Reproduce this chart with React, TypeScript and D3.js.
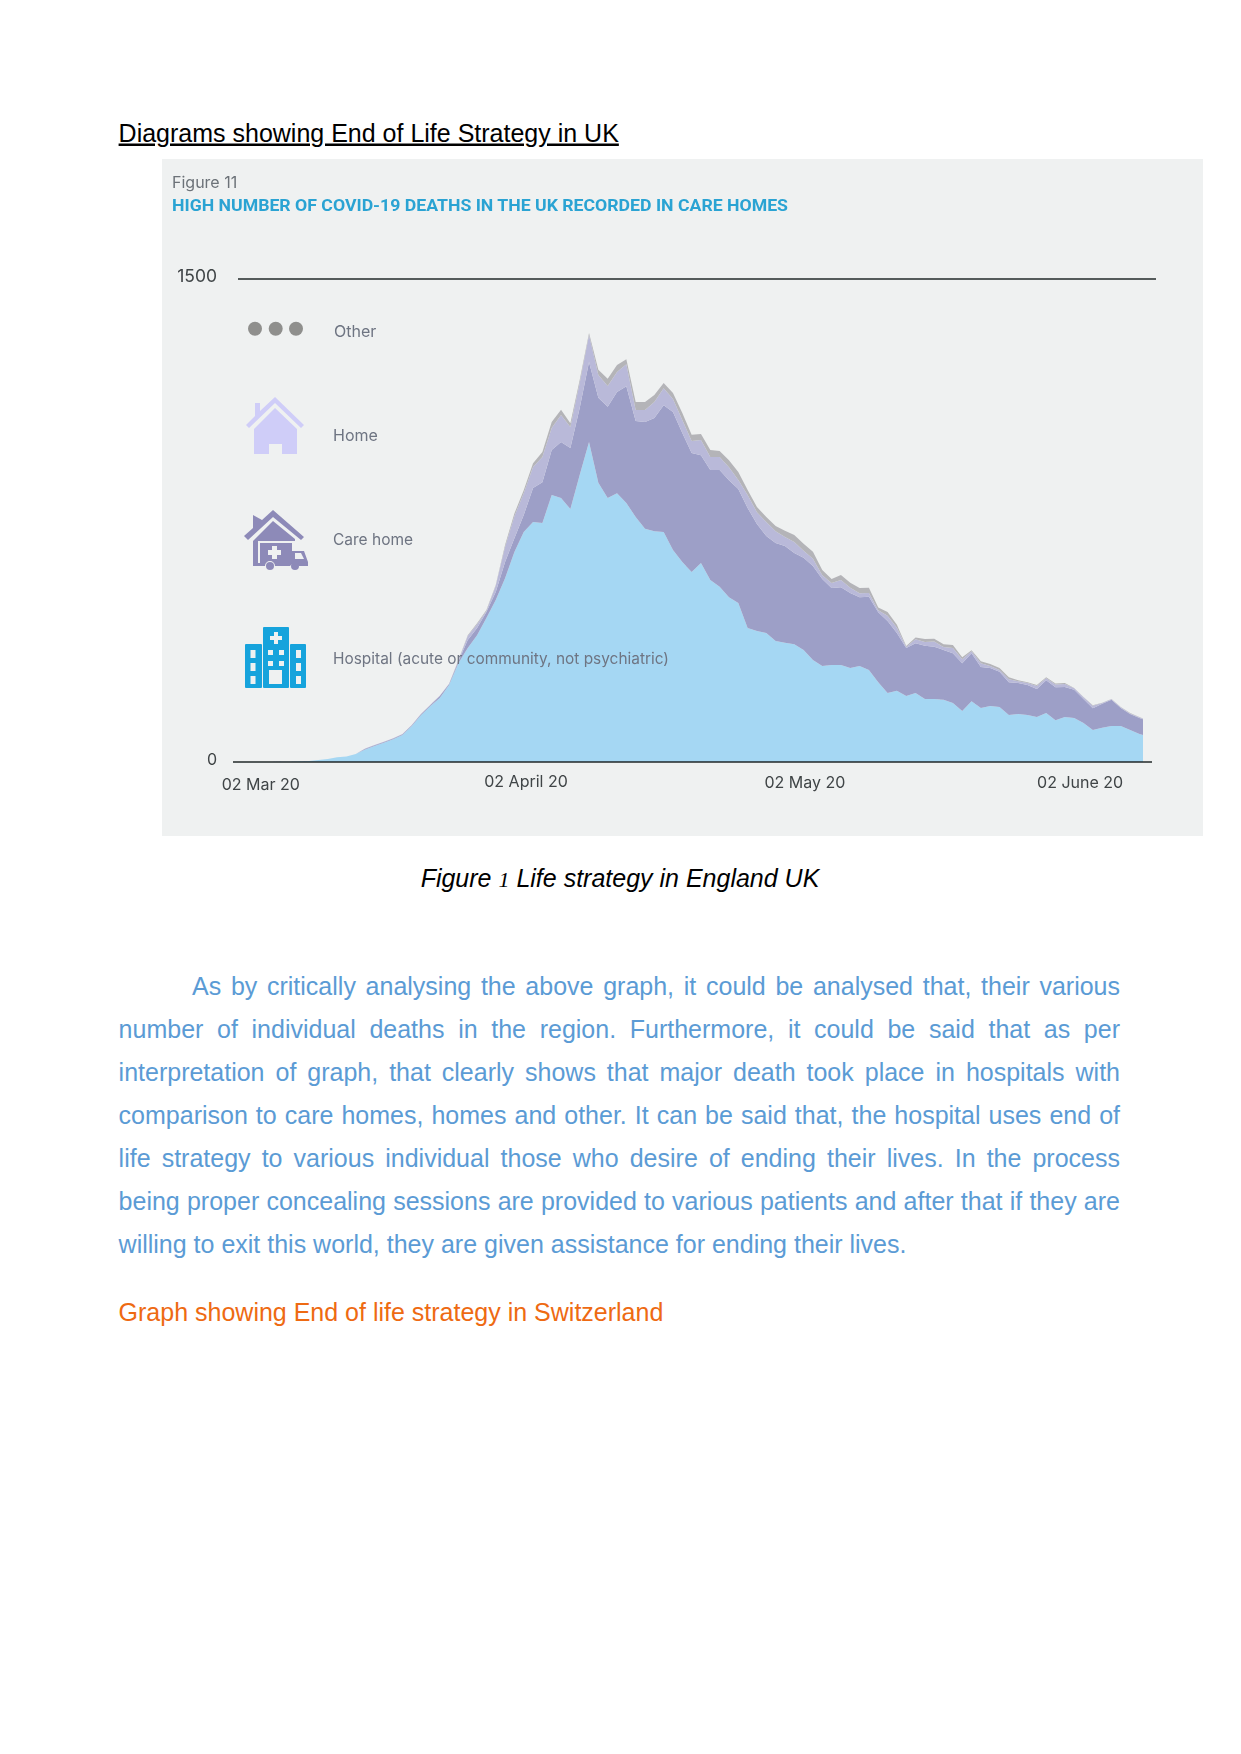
import { useMemo } from "react";
import * as d3 from "d3";

// daily values, 1 Mar 20 to 7 June 20
const hospital = [
  0, 0, 0, 0, 0, 1, 1, 2, 3, 6, 9, 15, 17, 25, 39, 50, 60, 71, 84, 112, 146, 174, 199, 239, 307, 354, 394, 447, 503, 571,
  652, 714, 745, 742, 829, 820, 786, 891, 994, 867, 820, 835, 804, 761, 724, 717, 714, 658, 621, 590, 618, 565, 544, 512,
  494, 416, 407, 401, 376, 370, 366, 348, 317, 298, 301, 301, 292, 298, 286, 248, 214, 221, 205, 214, 196, 196, 193, 183,
  158, 189, 168, 174, 171, 146, 149, 146, 140, 152, 130, 140, 137, 121, 99, 106, 112, 112, 99, 87, 78,
];
const careHome = [
  0, 0, 0, 0, 0, 0, 0, 0, 0, 0, 0, 0, 0, 0, 2, 2, 2, 2, 2, 2, 3, 3, 6, 3, 6, 25, 22, 19, 25, 50, 43, 53, 106, 127, 140, 174,
  189, 208, 248, 264, 283, 314, 363, 298, 332, 351, 394, 429, 401, 370, 335, 342, 363, 363, 354, 373, 332, 301, 304, 301,
  283, 286, 292, 270, 239, 242, 233, 214, 227, 217, 224, 180, 149, 155, 165, 162, 155, 155, 149, 149, 127, 118, 109, 102,
  96, 93, 87, 102, 102, 93, 87, 75, 68, 75, 81, 56, 50, 50, 47,
];
const home = [
  0, 0, 0, 0, 0, 0, 0, 0, 0, 0, 0, 0, 0, 0, 1, 1, 1, 1, 1, 1, 1, 1, 1, 1, 2, 12, 12, 3, 19, 47, 68, 68, 65, 78, 68, 84, 65,
  78, 84, 71, 65, 62, 68, 34, 37, 50, 53, 40, 40, 37, 47, 40, 40, 40, 28, 40, 37, 43, 37, 28, 34, 22, 22, 12, 16, 22, 16,
  12, 12, 6, 16, 16, 3, 12, 12, 16, 9, 16, 12, 6, 12, 6, 6, 9, 6, 6, 9, 6, 9, 9, 5, 5, 8, 2, 2, 2, 2, 2, 2,
];
const other = [
  0, 0, 0, 0, 0, 0, 0, 0, 0, 0, 0, 0, 0, 0, 0, 0, 0, 0, 0, 0, 0, 0, 0, 0, 2, 3, 3, 3, 3, 6, 9, 9, 12, 16, 19, 16, 12, 9, 6,
  16, 22, 22, 16, 25, 25, 22, 16, 19, 22, 19, 19, 22, 19, 22, 25, 16, 16, 16, 16, 19, 22, 22, 22, 16, 12, 16, 16, 16, 16, 9,
  12, 9, 3, 6, 9, 9, 9, 9, 6, 3, 6, 6, 6, 6, 3, 3, 3, 3, 3, 3, 1, 1, 1, 1, 1, 1, 1, 1, 1,
];
const seriesKeys = ["hospital", "careHome", "home", "other"];
const seriesColors = ["#a5d7f3", "#9d9fc7", "#b9b9d9", "#b4b4b8"];
const yTicks = [0, 1500];
const xTickDates = [
  new Date(Date.UTC(2020, 2, 2)),
  new Date(Date.UTC(2020, 3, 2)),
  new Date(Date.UTC(2020, 4, 2)),
  new Date(Date.UTC(2020, 5, 2)),
];
const xTickLabels = ["02 Mar 20", "02 April 20", "02 May 20", "02 June 20"];

const paragraph = [
  "As by critically analysing the above graph, it could be analysed that, their various",
  "number of individual deaths in the region. Furthermore, it could be said that as per",
  "interpretation of graph, that clearly shows that major death took place in hospitals with",
  "comparison to care homes, homes and other. It can be said that, the hospital uses end of",
  "life strategy to various individual those who desire of ending their lives. In the process",
  "being proper concealing sessions are provided to various patients and after that if they are",
  "willing to exit this world, they are given assistance for ending their lives.",
];

const SANS = '"Liberation Sans", Arial, sans-serif';
const TITLE_FONT = 'Roboto, "Noto Sans", sans-serif';
const CHART_FONT = 'Inter, Roboto, sans-serif';
const BODY_SIZE = 25;
const LABEL_COLOR = "#6e7482";
const AXIS_COLOR = "#1f2628";

const startDate = new Date(Date.UTC(2020, 2, 1));
const dates = hospital.map((_, i) => d3.utcDay.offset(startDate, i));
const rows = dates.map((date, i) => ({
  date,
  hospital: hospital[i],
  careHome: careHome[i],
  home: home[i],
  other: other[i],
}));

const x = d3
  .scaleUtc()
  .domain([startDate, dates[dates.length - 1]])
  .range([234.5, 1148.8]);
const y = d3.scaleLinear().domain([0, 1500]).range([762, 279]);

const layers = d3.stack<any>().keys(seriesKeys)(rows);
const areaGen = d3
  .area<any>()
  .x((d) => x(d.data.date))
  .y0((d) => y(d[0]))
  .y1((d) => y(d[1]));

// the tick labels in the picture sit off their dates
const tickNudge = [17, -7, -8, -22];
const tickLabelY = [790, 787, 788, 788];

const HomeIcon = () => (
  <g fill="#cfcdf8">
    <path d="M275 397 L304 425 L301 428 L275 403 L249 428 L246 425 L255 416 L255 403 L260 403 L260 411 Z" />
    <path d="M275 408 L297 429 L297 454 L282 454 L282 444 L269 444 L269 454 L254 454 L254 429 Z" />
  </g>
);

const CareHomeIcon = () => (
  <g fill="#8d8ab8">
    <path d="M273 510 L304 537 L301 540 L273 517 L248 540 L244 536 L253 528 L253 515 L262 520 Z" />
    <path d="M273 521 L295 539 L295 541 L258 541 L258 565 L253 565 L253 541 Z" />
    <path d="M260 543 L292 543 L292 551 L304 551 L308 562 L308 566 L299 566 A5 5 0 0 0 290 566 L275 566 A5 5 0 0 0 265 566 L253 566 L253 563 L260 563 Z" />
    <circle cx={270} cy={566} r={4} />
    <circle cx={295} cy={566} r={4} />
    <path fill="#eff1f1" d="M272 546 h5 v4 h4 v5 h-4 v4 h-5 v-4 h-4 v-5 h4 Z" />
    <path fill="#eff1f1" d="M295 553 h6 l3 6 h-9 Z" />
  </g>
);

const HospitalIcon = () => {
  const wingWindows = [650, 663, 676];
  const towerWindows = [650, 661];
  return (
    <g>
      <rect x={263} y={627} width={26} height={61} fill="#16a3dc" rx={1} />
      <rect x={245} y={644} width={17} height={44} fill="#16a3dc" rx={1} />
      <rect x={290} y={644} width={16} height={44} fill="#16a3dc" rx={1} />
      <path fill="#eff1f1" d="M274 632 h4 v4 h4 v4 h-4 v4 h-4 v-4 h-4 v-4 h4 Z" />
      {wingWindows.map((w) => (
        <g key={w} fill="#eff1f1">
          <rect x={250.5} y={w} width={5} height={8} />
          <rect x={296} y={w} width={5} height={8} />
        </g>
      ))}
      {towerWindows.map((w) => (
        <g key={w} fill="#eff1f1">
          <rect x={268} y={w} width={5} height={5} />
          <rect x={279} y={w} width={5} height={5} />
        </g>
      ))}
      <rect x={269} y={670} width={13} height={14} fill="#eff1f1" />
    </g>
  );
};

const App = () => {
  // stretch the spaces of each full line out to the right margin, the way the page does
  const spacing = useMemo(() => {
    const ctx = document.createElement("canvas").getContext("2d");
    ctx.font = `${BODY_SIZE}px "Liberation Sans"`;
    return paragraph.map((line, i) => {
      if (i === paragraph.length - 1) return 0;
      const left = i === 0 ? 192 : 118.6;
      const gaps = line.split(" ").length - 1;
      return (1120 - left - ctx.measureText(line).width) / gaps;
    });
  }, []);

  return (
    <svg
      width={1241}
      height={1754}
      style={{ position: "absolute", left: 0, top: 0, background: "#fff" }}
    >
      <defs>
        <filter id="soft" x="-2%" y="-2%" width="104%" height="104%">
          <feGaussianBlur stdDeviation="0.5" />
        </filter>
        <clipPath id="plot">
          <rect x={162} y={159} width={981} height={604} />
        </clipPath>
      </defs>

      <text x={118.6} y={141.5} fontFamily={SANS} fontSize={BODY_SIZE} textDecoration="underline" fill="#000">
        Diagrams showing End of Life Strategy in UK
      </text>

      <rect x={162} y={159} width={1041} height={677} fill="#eff1f1" />
      <g filter="url(#soft)">
        <text x={172} y={188} fontFamily={CHART_FONT} fontSize={16} fill="#6c7278">
          Figure 11
        </text>
        <text
          x={172}
          y={210.5}
          fontFamily={TITLE_FONT}
          fontSize={16.5}
          fontWeight={700}
          fill="#2aa3d3"
          textLength={616}
          lengthAdjust="spacingAndGlyphs"
        >
          HIGH NUMBER OF COVID-19 DEATHS IN THE UK RECORDED IN CARE HOMES
        </text>

        <g clipPath="url(#plot)">
          {layers.map((layer, i) => (
            <path key={layer.key} d={areaGen(layer)} fill={seriesColors[i]} />
          ))}
        </g>

        {yTicks.map((t) => (
          <line
            key={t}
            x1={t === 0 ? 233 : 238}
            x2={t === 0 ? 1152 : 1156}
            y1={y(t)}
            y2={y(t)}
            stroke={AXIS_COLOR}
            strokeWidth={1.4}
          />
        ))}
        {yTicks.map((t) => (
          <text
            key={t}
            x={217}
            y={y(t) + 3}
            textAnchor="end"
            fontFamily={CHART_FONT}
            fontSize={t === 1500 ? 17.5 : 16}
            fill="#3f4446"
          >
            {t}
          </text>
        ))}
        {xTickDates.map((d, i) => (
          <text
            key={xTickLabels[i]}
            x={x(d) + tickNudge[i]}
            y={tickLabelY[i]}
            textAnchor="middle"
            fontFamily={CHART_FONT}
            fontSize={16}
            fill="#3f4446"
          >
            {xTickLabels[i]}
          </text>
        ))}

        {[255, 275.7, 296].map((cx) => (
          <circle key={cx} cx={cx} cy={328.7} r={7} fill="#8f8f8d" />
        ))}
        <HomeIcon />
        <CareHomeIcon />
        <HospitalIcon />

        <text x={334} y={337} fontFamily={CHART_FONT} fontSize={16} fill={LABEL_COLOR}>
          Other
        </text>
        <text x={333} y={440.5} fontFamily={CHART_FONT} fontSize={16} fill={LABEL_COLOR}>
          Home
        </text>
        <text x={333} y={545} fontFamily={CHART_FONT} fontSize={15.5} fill={LABEL_COLOR}>
          Care home
        </text>
        <text
          x={333}
          y={663.5}
          fontFamily={CHART_FONT}
          fontSize={15.5}
          fill={LABEL_COLOR}
          textLength={336}
          lengthAdjust="spacingAndGlyphs"
        >
          Hospital (acute or community, not psychiatric)
        </text>
      </g>

      <text x={620} y={886.5} textAnchor="middle" fontFamily={SANS} fontSize={BODY_SIZE} fontStyle="italic" fill="#000">
        Figure <tspan fontFamily='"Liberation Serif", serif' fontSize={22}>1</tspan> Life strategy in England UK
      </text>

      {paragraph.map((line, i) => (
        <text
          key={i}
          x={i === 0 ? 192 : 118.6}
          y={995 + i * 43.05}
          fontFamily={SANS}
          fontSize={BODY_SIZE}
          fill="#5b9bd5"
          style={{ wordSpacing: spacing[i] }}
        >
          {line}
        </text>
      ))}

      <text x={118.6} y={1321} fontFamily={SANS} fontSize={BODY_SIZE} fill="#ee6a12">
        Graph showing End of life strategy in Switzerland
      </text>
    </svg>
  );
};

export default App;
